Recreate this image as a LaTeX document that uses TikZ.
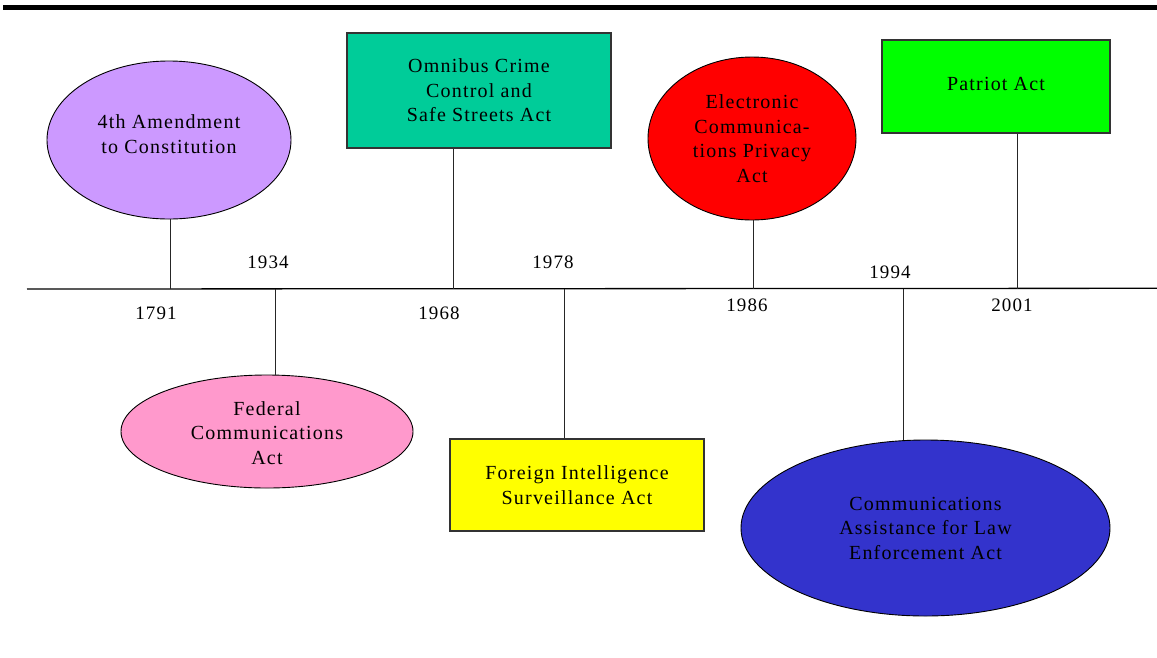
\documentclass[tikz,border=0pt]{standalone}
\usepackage{fontspec}
\setmainfont{Liberation Serif}[LetterSpace=6]
\usetikzlibrary{shapes.geometric}
\definecolor{lavender}{HTML}{CC99FF}
\definecolor{pinkish}{HTML}{FF99CC}
\definecolor{teal}{HTML}{00CC99}
\definecolor{yel}{HTML}{FFFF00}
\definecolor{redfill}{HTML}{FF0000}
\definecolor{lime}{HTML}{00FF00}
\definecolor{blueish}{HTML}{3333CC}
\tikzset{
  lbl/.style={font=\fontsize{20}{24.5}\selectfont, align=center, text=black},
  oval/.style={lbl, ellipse, draw=black, line width=0.9pt, inner sep=0pt},
  panel/.style={lbl, rectangle, draw=black!80, line width=1.2pt, inner sep=0pt},
  year/.style={font=\fontsize{19}{22}\selectfont, inner sep=0pt},
  stem/.style={line width=0.9pt, draw=black!85},
}
\begin{document}
\begin{tikzpicture}[x=1pt,y=-1pt]
\useasboundingbox (0,0) rectangle (1157,657);

% heading rule
\fill[black] (3,5) rectangle (1157,9.7);

% the time axis
\coordinate (axL) at (27,289);
\coordinate (axR) at (1157,288.3);
\draw[line width=1.3pt] (axL) -- (axR);

% points where each event meets the axis
\coordinate (t1791) at (170,289);
\coordinate (t1934) at (275,289);
\coordinate (t1968) at (453,289);
\coordinate (t1978) at (564,289);
\coordinate (t1986) at (753,289);
\coordinate (t1994) at (903,288.6);
\coordinate (t2001) at (1017,288.5);

% events
\node[oval, fill=lavender, minimum width=244pt, minimum height=158pt,
      label={[lbl, yshift=6pt]center:4th Amendment\\to Constitution}] (amend) at (169,140) {};
\node[oval, fill=pinkish, minimum width=292pt, minimum height=113pt,
      label={[lbl, yshift=-1.5pt]center:Federal\\Communications\\Act}] (fca) at (267,431.5) {};
\node[panel, fill=teal, minimum width=264pt, minimum height=115pt] (omni) at (479,90.5)
  {Omnibus Crime\\Control and\\Safe Streets Act};
\node[panel, fill=yel, minimum width=254pt, minimum height=92pt] (fisa) at (577,485)
  {Foreign Intelligence\\Surveillance Act};
\node[oval, fill=redfill, minimum width=208pt, minimum height=163pt] (ecpa) at (752,138.5)
  {Electronic\\Communica-\\tions Privacy\\Act};
\node[oval, fill=blueish, minimum width=369pt, minimum height=176pt] (calea) at (925.5,528)
  {Communications\\Assistance for Law\\Enforcement Act};
\node[panel, fill=lime, minimum width=228pt, minimum height=93pt,
      label={[lbl, yshift=2.5pt]center:Patriot Act}] (patriot) at (996,86.5) {};

% stems from each event to the axis
\draw[stem] (amend.south -| t1791) -- (t1791);
\draw[stem] (fca.north -| t1934) -- (t1934);
\draw[stem] (omni.south -| t1968) -- (t1968);
\draw[stem] (fisa.north -| t1978) -- (t1978);
\draw[stem] (ecpa.south -| t1986) -- (t1986);
\draw[stem] (calea.north -| t1994) -- (t1994);
\draw[stem] (patriot.south -| t2001) -- (t2001);

% years
\node[year] (y1791) at (156,313) {1791};
\node[year] (y1934) at (268,262) {1934};
\node[year] (y1968) at (439,313) {1968};
\node[year] (y1978) at (553,262) {1978};
\node[year] (y1986) at (747,305) {1986};
\node[year] (y1994) at (890,272) {1994};
\node[year] (y2001) at (1012,305) {2001};
\end{tikzpicture}
\end{document}
